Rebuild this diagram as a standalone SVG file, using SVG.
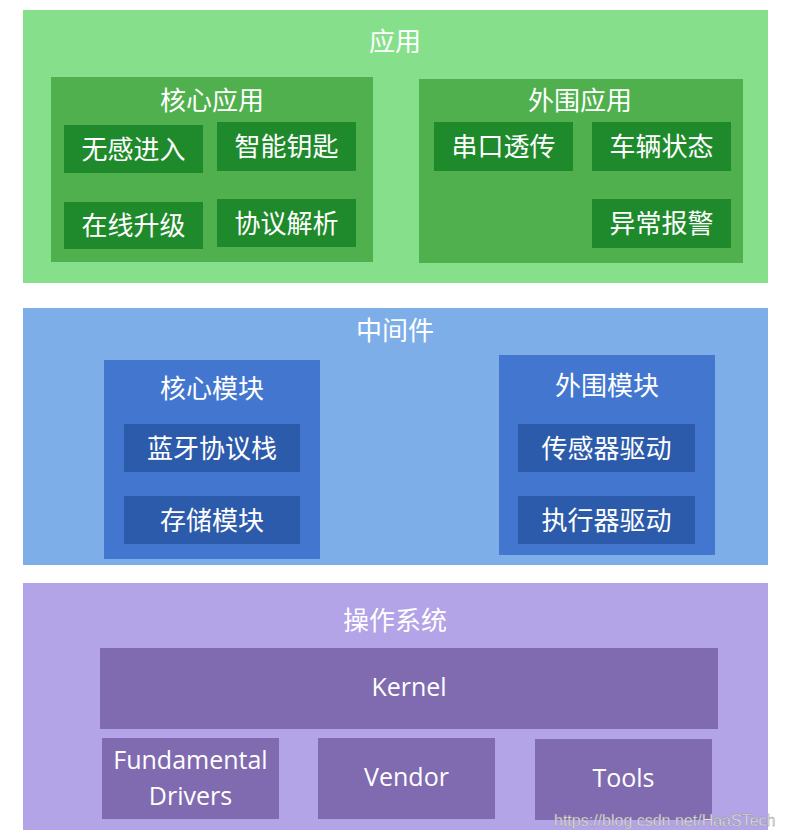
<svg xmlns="http://www.w3.org/2000/svg" width="785" height="839" viewBox="0 0 785 839">
<style>
text{font-family:"Noto Sans CJK SC","Noto Sans",sans-serif;font-size:26px;fill:#ffffff;text-anchor:middle;dominant-baseline:central}
.lat{font-family:"Open Sans","Noto Sans",sans-serif;font-size:25px}
.g0{fill:#86e08b}.g1{fill:#50b04d}.g2{fill:#1f8a2c}
.b0{fill:#7eaee8}.b1{fill:#4377cf}.b2{fill:#2c5bab}
.p0{fill:#b3a3e7}.p1{fill:#806bb0}
.wm{font-family:"Liberation Sans",Arial,sans-serif;font-size:16px;fill:#e6e6e6;text-anchor:start;stroke:#8a8a8a;stroke-width:0.35}
</style>
<rect width="785" height="839" fill="#ffffff"/>
<g id="layer-app">
<rect class="g0" x="23" y="10" width="745" height="273"/>
<text x="395" y="39">应用</text>
<g id="core-app">
<rect class="g1" x="51" y="77" width="322" height="185"/>
<text x="212" y="98">核心应用</text>
<g id="n-wugan"><rect class="g2" x="64" y="125" width="139" height="48"/><text x="133.5" y="147">无感进入</text></g>
<g id="n-zhineng"><rect class="g2" x="217" y="122" width="139" height="49"/><text x="286.5" y="144.5">智能钥匙</text></g>
<g id="n-zaixian"><rect class="g2" x="64" y="202" width="139" height="47"/><text x="133.5" y="223.5">在线升级</text></g>
<g id="n-xieyi"><rect class="g2" x="217" y="199" width="139" height="48"/><text x="286.5" y="221">协议解析</text></g>
</g>
<g id="peri-app">
<rect class="g1" x="419" y="79" width="324" height="184"/>
<text x="580" y="98">外围应用</text>
<g id="n-chuankou"><rect class="g2" x="434" y="122" width="139" height="49"/><text x="503.5" y="144.5">串口透传</text></g>
<g id="n-cheliang"><rect class="g2" x="592" y="122" width="139" height="49"/><text x="661.5" y="144.5">车辆状态</text></g>
<g id="n-yichang"><rect class="g2" x="592" y="199" width="139" height="49"/><text x="661.5" y="221.5">异常报警</text></g>
</g>
</g>
<g id="layer-mid">
<rect class="b0" x="23" y="308" width="745" height="257"/>
<text x="395" y="328">中间件</text>
<g id="core-mod">
<rect class="b1" x="104" y="360" width="216" height="199"/>
<text x="212" y="386">核心模块</text>
<g id="n-lanya"><rect class="b2" x="124" y="424" width="176" height="48"/><text x="212" y="446">蓝牙协议栈</text></g>
<g id="n-cunchu"><rect class="b2" x="124" y="496" width="176" height="48"/><text x="212" y="518">存储模块</text></g>
</g>
<g id="peri-mod">
<rect class="b1" x="499" y="355" width="216" height="200"/>
<text x="607" y="383">外围模块</text>
<g id="n-chuangan"><rect class="b2" x="518" y="424" width="177" height="48"/><text x="606.5" y="446">传感器驱动</text></g>
<g id="n-zhixing"><rect class="b2" x="518" y="496" width="177" height="48"/><text x="606.5" y="518">执行器驱动</text></g>
</g>
</g>
<g id="layer-os">
<rect class="p0" x="23" y="583" width="745" height="247"/>
<text x="395" y="618">操作系统</text>
<g id="n-kernel"><rect class="p1" x="100" y="648" width="618" height="81"/><text class="lat" x="409" y="686">Kernel</text></g>
<g id="n-drivers"><rect class="p1" x="102" y="738" width="177" height="81"/><text class="lat" x="190.5" y="759">Fundamental</text><text class="lat" x="190.5" y="795">Drivers</text></g>
<g id="n-vendor"><rect class="p1" x="318" y="738" width="177" height="81"/><text class="lat" x="406.5" y="776">Vendor</text></g>
<g id="n-tools"><rect class="p1" x="535" y="739" width="177" height="81"/><text class="lat" x="623.5" y="777">Tools</text></g>
</g>
<g id="connectors"></g>
<text class="wm" x="554" y="820">https://blog.csdn.net/HaaSTech</text>
</svg>
